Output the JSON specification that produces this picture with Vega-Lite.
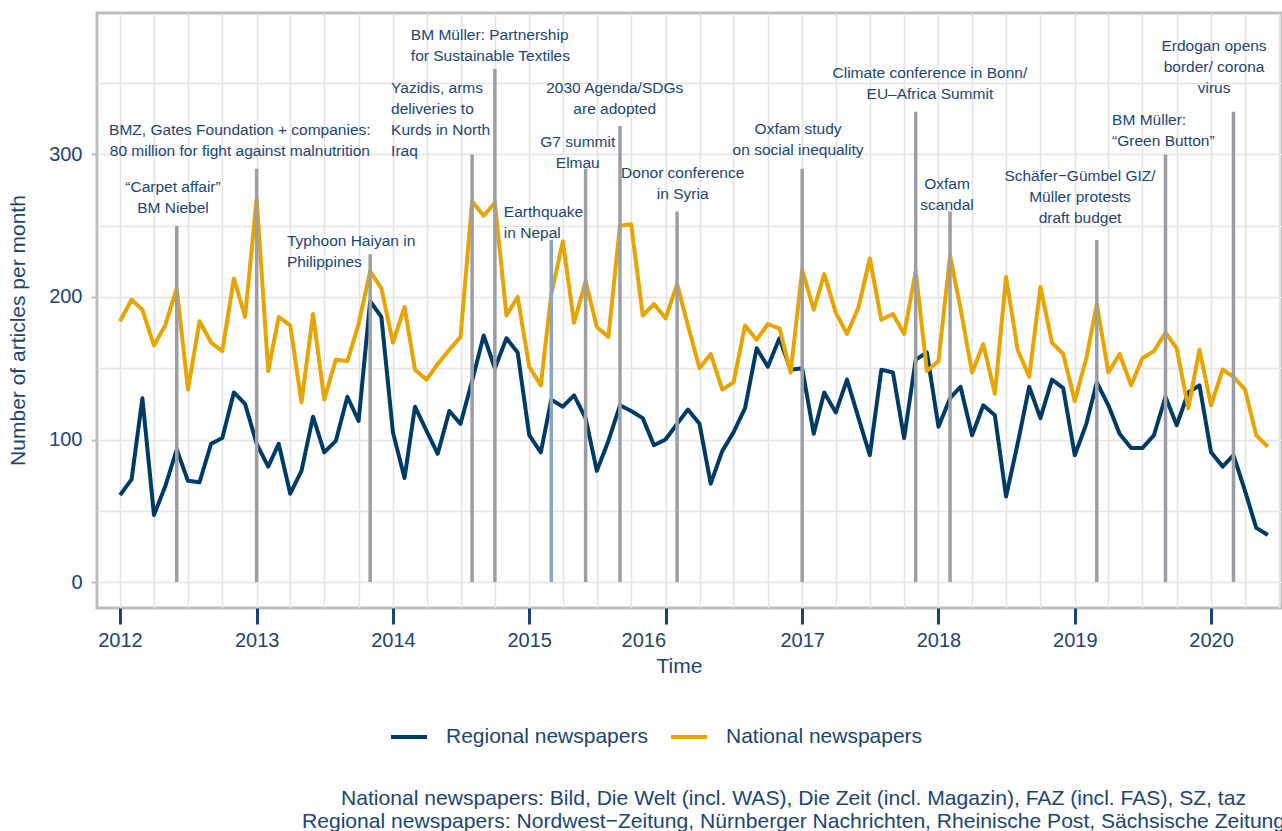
{
  "$schema": "https://vega.github.io/schema/vega-lite/v6.json",
  "autosize": "none",
  "width": 1185,
  "height": 595,
  "padding": {"left": 97, "top": 13, "right": 0, "bottom": 223},
  "background": "white",
  "title": {
    "text": ["National newspapers: Bild, Die Welt (incl. WAS), Die Zeit (incl. Magazin), FAZ (incl. FAS), SZ, taz", "Regional newspapers: Nordwest−Zeitung, Nürnberger Nachrichten, Rheinische Post, Sächsische Zeitung"],
    "orient": "bottom",
    "anchor": "middle",
    "frame": "group",
    "dx": 104,
    "offset": 41,
    "fontSize": 21.1,
    "fontWeight": "normal",
    "lineHeight": 23,
    "color": "#1b4571"
  },
  "datasets": {
    "series": [
      {"date": "2012-01-01", "Regional newspapers": 61, "National newspapers": 183},
      {"date": "2012-02-01", "Regional newspapers": 72, "National newspapers": 198},
      {"date": "2012-03-01", "Regional newspapers": 129, "National newspapers": 191},
      {"date": "2012-04-01", "Regional newspapers": 47, "National newspapers": 166},
      {"date": "2012-05-01", "Regional newspapers": 67, "National newspapers": 180},
      {"date": "2012-06-01", "Regional newspapers": 93, "National newspapers": 206},
      {"date": "2012-07-01", "Regional newspapers": 71, "National newspapers": 135},
      {"date": "2012-08-01", "Regional newspapers": 70, "National newspapers": 183},
      {"date": "2012-09-01", "Regional newspapers": 97, "National newspapers": 168},
      {"date": "2012-10-01", "Regional newspapers": 101, "National newspapers": 162},
      {"date": "2012-11-01", "Regional newspapers": 133, "National newspapers": 213},
      {"date": "2012-12-01", "Regional newspapers": 125, "National newspapers": 186},
      {"date": "2013-01-01", "Regional newspapers": 97, "National newspapers": 269},
      {"date": "2013-02-01", "Regional newspapers": 81, "National newspapers": 148},
      {"date": "2013-03-01", "Regional newspapers": 97, "National newspapers": 186},
      {"date": "2013-04-01", "Regional newspapers": 62, "National newspapers": 180},
      {"date": "2013-05-01", "Regional newspapers": 78, "National newspapers": 126},
      {"date": "2013-06-01", "Regional newspapers": 116, "National newspapers": 188},
      {"date": "2013-07-01", "Regional newspapers": 91, "National newspapers": 128},
      {"date": "2013-08-01", "Regional newspapers": 99, "National newspapers": 156},
      {"date": "2013-09-01", "Regional newspapers": 130, "National newspapers": 155},
      {"date": "2013-10-01", "Regional newspapers": 113, "National newspapers": 181},
      {"date": "2013-11-01", "Regional newspapers": 197, "National newspapers": 218},
      {"date": "2013-12-01", "Regional newspapers": 186, "National newspapers": 206},
      {"date": "2014-01-01", "Regional newspapers": 105, "National newspapers": 168},
      {"date": "2014-02-01", "Regional newspapers": 73, "National newspapers": 193},
      {"date": "2014-03-01", "Regional newspapers": 123, "National newspapers": 149},
      {"date": "2014-04-01", "Regional newspapers": 106, "National newspapers": 142},
      {"date": "2014-05-01", "Regional newspapers": 90, "National newspapers": 153},
      {"date": "2014-06-01", "Regional newspapers": 120, "National newspapers": 163},
      {"date": "2014-07-01", "Regional newspapers": 111, "National newspapers": 172},
      {"date": "2014-08-01", "Regional newspapers": 141, "National newspapers": 267},
      {"date": "2014-09-01", "Regional newspapers": 173, "National newspapers": 257},
      {"date": "2014-10-01", "Regional newspapers": 150, "National newspapers": 266},
      {"date": "2014-11-01", "Regional newspapers": 171, "National newspapers": 187},
      {"date": "2014-12-01", "Regional newspapers": 161, "National newspapers": 200},
      {"date": "2015-01-01", "Regional newspapers": 103, "National newspapers": 151},
      {"date": "2015-02-01", "Regional newspapers": 91, "National newspapers": 138},
      {"date": "2015-03-01", "Regional newspapers": 128, "National newspapers": 202},
      {"date": "2015-04-01", "Regional newspapers": 123, "National newspapers": 239},
      {"date": "2015-05-01", "Regional newspapers": 131, "National newspapers": 182},
      {"date": "2015-06-01", "Regional newspapers": 115, "National newspapers": 211},
      {"date": "2015-07-01", "Regional newspapers": 78, "National newspapers": 179},
      {"date": "2015-08-01", "Regional newspapers": 99, "National newspapers": 172},
      {"date": "2015-09-01", "Regional newspapers": 124, "National newspapers": 250},
      {"date": "2015-10-01", "Regional newspapers": 120, "National newspapers": 251},
      {"date": "2015-11-01", "Regional newspapers": 115, "National newspapers": 187},
      {"date": "2015-12-01", "Regional newspapers": 96, "National newspapers": 195},
      {"date": "2016-01-01", "Regional newspapers": 100, "National newspapers": 185},
      {"date": "2016-02-01", "Regional newspapers": 111, "National newspapers": 209},
      {"date": "2016-03-01", "Regional newspapers": 121, "National newspapers": 180},
      {"date": "2016-04-01", "Regional newspapers": 111, "National newspapers": 150},
      {"date": "2016-05-01", "Regional newspapers": 69, "National newspapers": 160},
      {"date": "2016-06-01", "Regional newspapers": 92, "National newspapers": 135},
      {"date": "2016-07-01", "Regional newspapers": 105, "National newspapers": 140},
      {"date": "2016-08-01", "Regional newspapers": 122, "National newspapers": 180},
      {"date": "2016-09-01", "Regional newspapers": 164, "National newspapers": 170},
      {"date": "2016-10-01", "Regional newspapers": 151, "National newspapers": 181},
      {"date": "2016-11-01", "Regional newspapers": 171, "National newspapers": 178},
      {"date": "2016-12-01", "Regional newspapers": 149, "National newspapers": 147},
      {"date": "2017-01-01", "Regional newspapers": 150, "National newspapers": 219},
      {"date": "2017-02-01", "Regional newspapers": 104, "National newspapers": 191},
      {"date": "2017-03-01", "Regional newspapers": 133, "National newspapers": 216},
      {"date": "2017-04-01", "Regional newspapers": 119, "National newspapers": 189},
      {"date": "2017-05-01", "Regional newspapers": 142, "National newspapers": 174},
      {"date": "2017-06-01", "Regional newspapers": 115, "National newspapers": 193},
      {"date": "2017-07-01", "Regional newspapers": 89, "National newspapers": 227},
      {"date": "2017-08-01", "Regional newspapers": 149, "National newspapers": 184},
      {"date": "2017-09-01", "Regional newspapers": 147, "National newspapers": 188},
      {"date": "2017-10-01", "Regional newspapers": 101, "National newspapers": 174},
      {"date": "2017-11-01", "Regional newspapers": 156, "National newspapers": 218},
      {"date": "2017-12-01", "Regional newspapers": 161, "National newspapers": 148},
      {"date": "2018-01-01", "Regional newspapers": 109, "National newspapers": 155},
      {"date": "2018-02-01", "Regional newspapers": 129, "National newspapers": 229},
      {"date": "2018-03-01", "Regional newspapers": 137, "National newspapers": 192},
      {"date": "2018-04-01", "Regional newspapers": 103, "National newspapers": 147},
      {"date": "2018-05-01", "Regional newspapers": 124, "National newspapers": 167},
      {"date": "2018-06-01", "Regional newspapers": 117, "National newspapers": 132},
      {"date": "2018-07-01", "Regional newspapers": 60, "National newspapers": 214},
      {"date": "2018-08-01", "Regional newspapers": 97, "National newspapers": 163},
      {"date": "2018-09-01", "Regional newspapers": 137, "National newspapers": 144},
      {"date": "2018-10-01", "Regional newspapers": 115, "National newspapers": 207},
      {"date": "2018-11-01", "Regional newspapers": 142, "National newspapers": 168},
      {"date": "2018-12-01", "Regional newspapers": 136, "National newspapers": 160},
      {"date": "2019-01-01", "Regional newspapers": 89, "National newspapers": 127},
      {"date": "2019-02-01", "Regional newspapers": 111, "National newspapers": 157},
      {"date": "2019-03-01", "Regional newspapers": 140, "National newspapers": 195},
      {"date": "2019-04-01", "Regional newspapers": 124, "National newspapers": 147},
      {"date": "2019-05-01", "Regional newspapers": 104, "National newspapers": 160},
      {"date": "2019-06-01", "Regional newspapers": 94, "National newspapers": 138},
      {"date": "2019-07-01", "Regional newspapers": 94, "National newspapers": 157},
      {"date": "2019-08-01", "Regional newspapers": 103, "National newspapers": 162},
      {"date": "2019-09-01", "Regional newspapers": 130, "National newspapers": 175},
      {"date": "2019-10-01", "Regional newspapers": 110, "National newspapers": 164},
      {"date": "2019-11-01", "Regional newspapers": 133, "National newspapers": 122},
      {"date": "2019-12-01", "Regional newspapers": 138, "National newspapers": 163},
      {"date": "2020-01-01", "Regional newspapers": 91, "National newspapers": 124},
      {"date": "2020-02-01", "Regional newspapers": 81, "National newspapers": 149},
      {"date": "2020-03-01", "Regional newspapers": 89, "National newspapers": 144},
      {"date": "2020-04-01", "Regional newspapers": 64, "National newspapers": 135},
      {"date": "2020-05-01", "Regional newspapers": 38, "National newspapers": 103},
      {"date": "2020-06-01", "Regional newspapers": 33, "National newspapers": 95}
    ],
    "events": [
      {"date": "2012-06-01", "top": 250, "event": "Carpet affair"},
      {"date": "2013-01-01", "top": 290, "event": "BMZ Gates"},
      {"date": "2013-11-01", "top": 230, "event": "Typhoon Haiyan"},
      {"date": "2014-08-01", "top": 300, "event": "Yazidis"},
      {"date": "2014-10-01", "top": 360, "event": "Textiles partnership"},
      {"date": "2015-03-01", "top": 240, "event": "Earthquake in Nepal"},
      {"date": "2015-06-01", "top": 290, "event": "G7 summit"},
      {"date": "2015-09-01", "top": 320, "event": "SDGs"},
      {"date": "2016-02-01", "top": 260, "event": "Donor conference"},
      {"date": "2017-01-01", "top": 290, "event": "Oxfam study"},
      {"date": "2017-11-01", "top": 330, "event": "Climate conference"},
      {"date": "2018-02-01", "top": 260, "event": "Oxfam scandal"},
      {"date": "2019-03-01", "top": 240, "event": "Budget"},
      {"date": "2019-09-01", "top": 300, "event": "Green Button"},
      {"date": "2020-03-01", "top": 330, "event": "Erdogan"}
    ],
    "notes_left": [
      {"date": "2013-03-23", "y": 235.8, "text": "Typhoon Haiyan in\nPhilippines"},
      {"date": "2013-12-27", "y": 343.1, "text": "Yazidis, arms\ndeliveries to\nKurds in North\nIraq"},
      {"date": "2014-02-18", "y": 380.3, "text": "BM Müller: Partnership\nfor Sustainable Textiles"},
      {"date": "2014-10-25", "y": 256.2, "text": "Earthquake\nin Nepal"},
      {"date": "2019-04-11", "y": 320.7, "text": "BM Müller:\n“Green Button”"}
    ],
    "notes_center": [
      {"date": "2012-05-22", "y": 273.7, "text": "“Carpet affair”\nBM Niebel"},
      {"date": "2012-11-17", "y": 313.7, "text": "BMZ, Gates Foundation + companies:\n80 million for fight against malnutrition"},
      {"date": "2015-05-11", "y": 305.3, "text": "G7 summit\nElmau"},
      {"date": "2015-08-18", "y": 343.1, "text": "2030 Agenda/SDGs\nare adopted"},
      {"date": "2016-02-16", "y": 283.5, "text": "Donor conference\nin Syria"},
      {"date": "2016-12-21", "y": 314.4, "text": "Oxfam study\non social inequality"},
      {"date": "2017-12-09", "y": 353.6, "text": "Climate conference in Bonn/\nEU–Africa Summit"},
      {"date": "2018-01-24", "y": 275.8, "text": "Oxfam\nscandal"},
      {"date": "2019-01-15", "y": 281.4, "text": "Schäfer−Gümbel GIZ/\nMüller protests\ndraft budget"},
      {"date": "2020-01-09", "y": 372.6, "text": "Erdogan opens\nborder/ corona\nvirus"}
    ]
  },
  "layer": [
    {
      "data": {"name": "series"},
      "transform": [{"fold": ["Regional newspapers", "National newspapers"], "as": ["series", "value"]}],
      "mark": {"type": "line", "strokeWidth": 4, "strokeJoin": "round"},
      "encoding": {
        "x": {
          "field": "date", "type": "temporal", "title": "Time",
          "scale": {"type": "utc", "domain": [{"year": 2011, "month": 10, "date": 31, "hours": 10, "utc": true}, {"year": 2020, "month": 7, "date": 9, "utc": true}], "nice": false},
          "axis": {
            "title": "Time",
            "titleX": 582,
            "titlePadding": 5,
            "titleFontSize": 21,
            "titleFontWeight": "normal",
            "titleColor": "#1b4571",
            "tickCount": {"interval": "month", "step": 3},
            "labelExpr": "utcmonth(datum.value) === 0 ? utcFormat(datum.value, '%Y') : ''",
            "labelAlign": {"condition": {"test": "utcyear(datum.value) === 2016", "value": "right"}, "value": "center"},
            "labelOverlap": false,
            "labelFlush": false,
            "labelBound": false,
            "labelFontSize": 20,
            "labelColor": "#1b4571",
            "labelPadding": 6,
            "tickColor": {"condition": {"test": "utcmonth(datum.value) === 0", "value": "#1b4571"}, "value": "transparent"},
            "tickSize": 16,
            "tickWidth": 3,
            "domain": false,
            "grid": true,
            "gridColor": "#e4e4e4",
            "gridWidth": 1.5
          }
        },
        "y": {
          "field": "value", "type": "quantitative", "title": "Number of articles per month",
          "scale": {"domain": [-18.2, 399.2], "nice": false, "zero": false},
          "axis": {
            "title": "Number of articles per month",
            "titleY": 317,
            "titlePadding": 20,
            "titleFontSize": 21,
            "titleFontWeight": "normal",
            "titleColor": "#1b4571",
            "values": [0, 50, 100, 150, 200, 250, 300, 350],
            "labelExpr": "datum.value % 100 === 0 ? datum.label : ''",
            "labelFontSize": 20,
            "labelColor": "#1b4571",
            "labelPadding": 9,
            "tickColor": {"condition": {"test": "datum.value % 100 === 0", "value": "#bdbdbd"}, "value": "transparent"},
            "tickSize": 6,
            "tickWidth": 2,
            "domain": false,
            "grid": true,
            "gridColor": "#e4e4e4",
            "gridWidth": 1.5
          }
        },
        "color": {
          "field": "series", "type": "nominal",
          "scale": {"domain": ["Regional newspapers", "National newspapers"], "range": ["#003b66", "#e8a400"]},
          "legend": {
            "title": null,
            "orient": "none",
            "direction": "horizontal",
            "legendX": 292,
            "legendY": 704,
            "padding": 0,
            "symbolType": "stroke",
            "symbolSize": 1296,
            "symbolStrokeWidth": 4,
            "labelFontSize": 21,
            "labelLimit": 0,
            "labelColor": "#1b4571",
            "labelOffset": 17,
            "columnPadding": 15
          }
        }
      }
    },
    {
      "data": {"name": "events"},
      "mark": {"type": "rule", "strokeWidth": 3.5, "color": "#9c9ea6"},
      "encoding": {
        "x": {"field": "date", "type": "temporal", "title": "Time"},
        "y": {"field": "top", "type": "quantitative", "title": "Number of articles per month"},
        "y2": {"datum": 0},
        "stroke": {"condition": {"test": "datum.event === 'Earthquake in Nepal'", "value": "#8ca4c4"}, "value": "#9c9ea6"}
      }
    },
    {
      "data": {"name": "notes_left"},
      "mark": {"type": "text", "align": "left", "baseline": "alphabetic", "lineBreak": "\n", "fontSize": 15.5, "lineHeight": 21, "color": "#1b4571"},
      "encoding": {
        "x": {"field": "date", "type": "temporal", "title": "Time"},
        "y": {"field": "y", "type": "quantitative", "title": "Number of articles per month"},
        "text": {"field": "text"}
      }
    },
    {
      "data": {"name": "notes_center"},
      "mark": {"type": "text", "align": "center", "baseline": "alphabetic", "lineBreak": "\n", "fontSize": 15.5, "lineHeight": 21, "color": "#1b4571"},
      "encoding": {
        "x": {"field": "date", "type": "temporal", "title": "Time"},
        "y": {"field": "y", "type": "quantitative", "title": "Number of articles per month"},
        "text": {"field": "text"}
      }
    }
  ],
  "config": {
    "font": "Liberation Sans",
    "view": {"stroke": "#bdbdbd", "strokeWidth": 3}
  }
}
